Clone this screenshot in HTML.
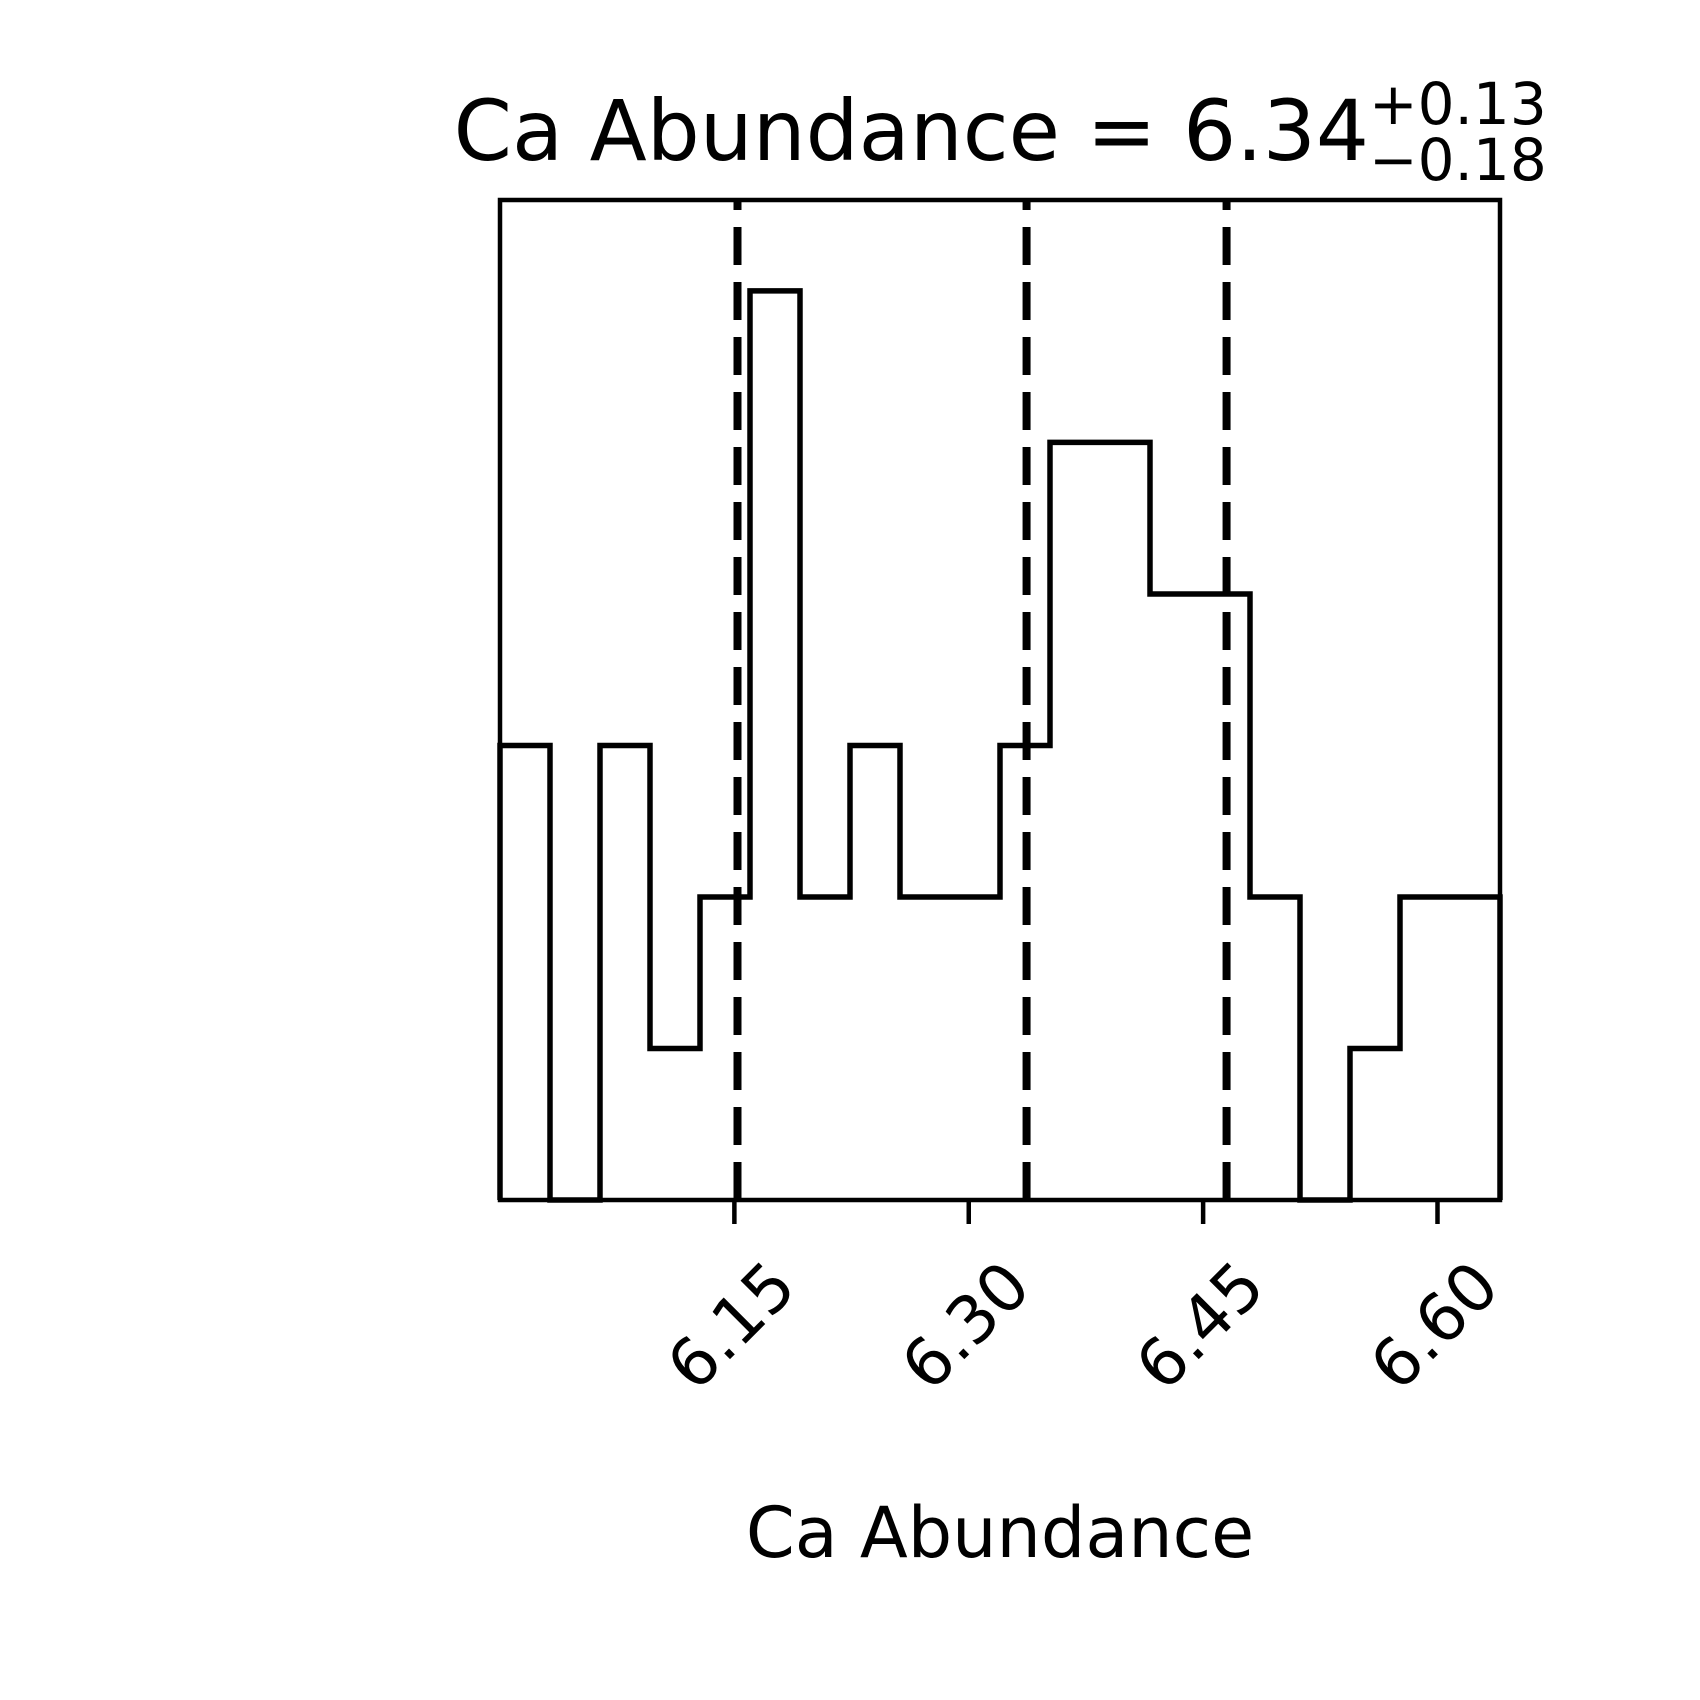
<!DOCTYPE html>
<html><head><meta charset="utf-8"><style>
html,body{margin:0;padding:0;background:#fff;}
svg{display:block;font-family:"DejaVu Sans","Liberation Sans",sans-serif;}
</style></head><body>
<svg id="chart" width="1700" height="1700" viewBox="0 0 1700 1700" xmlns="http://www.w3.org/2000/svg">
<g>
<text x="1369" y="160" text-anchor="end" font-size="83.5">Ca Abundance = 6.34</text>
<text x="1369" y="124" text-anchor="start" font-size="58">+0.13</text>
<text x="1369" y="180" text-anchor="start" font-size="58">−0.18</text>
</g>
<g id="plot"></g>
<text x="1000" y="1557" text-anchor="middle" font-size="70">Ca Abundance</text>
</svg>
<script>
const binEdgesRange = [6.0, 6.64];
const counts = [3,0,3,1,2,6,2,3,2,2,3,5,5,4,4,2,0,1,2,2];
const quantiles = [6.152, 6.337, 6.465];
const tickValues = [6.15, 6.30, 6.45, 6.60];
const tickLabels = ["6.15", "6.30", "6.45", "6.60"];

const L=500,R=1500,T=200,B=1200;
const ymax = Math.max(...counts)*1.1;
const xs = v => L + (v-binEdgesRange[0])/(binEdgesRange[1]-binEdgesRange[0])*(R-L);
const ys = v => B - v/ymax*(B-T);
const NS="http://www.w3.org/2000/svg";
const g=document.getElementById('plot');
function mk(tag,attrs){const e=document.createElementNS(NS,tag);for(const k in attrs)e.setAttribute(k,attrs[k]);g.appendChild(e);return e;}

const n=counts.length, w=(binEdgesRange[1]-binEdgesRange[0])/n;
let d=`M${xs(binEdgesRange[0])},${ys(0)}`;
counts.forEach((c,i)=>{const x0=xs(binEdgesRange[0]+i*w),x1=xs(binEdgesRange[0]+(i+1)*w);d+=` L${x0},${ys(c)} L${x1},${ys(c)}`;});
d+=` L${xs(binEdgesRange[1])},${ys(0)}`;
const hist=mk('path',{d:d,fill:'none',stroke:'#000','stroke-width':5.5,'stroke-linejoin':'miter'});



quantiles.forEach((q,i)=>{
  const l=mk('line',{x1:xs(q),x2:xs(q),y1:B,y2:T,stroke:'#000','stroke-width':8,'stroke-dasharray':'38 17'});
  
  
});

const frame=mk('rect',{x:L,y:T,width:R-L,height:B-T,fill:'none',stroke:'#000','stroke-width':4.5});



tickValues.forEach((v,i)=>{
  const x=xs(v);
  const t=mk('line',{x1:x,x2:x,y1:B,y2:B+24,stroke:'#000','stroke-width':4.5});
  
  
  const cy=1326, cx=x-3;
  const tx=mk('text',{x:cx,y:cy,'text-anchor':'middle','dominant-baseline':'central','font-size':66,transform:`rotate(-45 ${cx} ${cy})`});
  tx.textContent=tickLabels[i];
  
  
});
</script>
</body></html>
